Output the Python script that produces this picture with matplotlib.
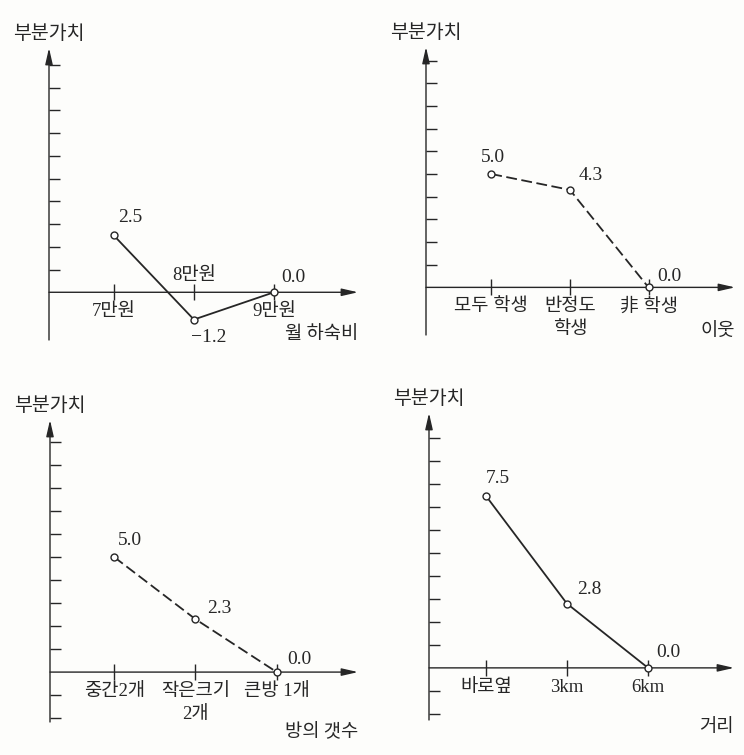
import matplotlib
matplotlib.use("Agg")
import matplotlib.pyplot as plt

# 부분가치 (part-worth) charts, four attributes
rent_levels = ['7만원', '8만원', '9만원']
rent_values = [2.5, -1.2, 0.0]

neighbor_levels = ['모두 학생', '반정도\n학생', '非 학생']
neighbor_values = [5.0, 4.3, 0.0]

room_levels = ['중간2개', '작은크기\n2개', '큰방 1개']
room_values = [5.0, 2.3, 0.0]

dist_levels = ['바로옆', '3km', '6km']
dist_values = [7.5, 2.8, 0.0]

y_title = '부분가치'
x_titles = ['월 하숙비', '이웃', '방의 갯수', '거리']

ink = '#262626'
serif_kr = ['Liberation Serif', 'Noto Sans CJK KR']
sans_kr = ['Noto Sans CJK KR', 'DejaVu Sans']

fig = plt.figure(figsize=(7.44, 7.55), dpi=100, facecolor='#fdfdfb')
W, H = 744, 755

# (left, right, top, bottom) in pixels, xlim, ylim, line style, label above?, value label offsets
panels = [
    dict(box=(49, 358, 48, 340), xlim=(0.19, 4.05), ylim=(-2.1, 10.75),
         levels=rent_levels, values=rent_values, ls='-', above=[False, True, False],
         offs=[(12, 13), (11, -13), (14, 11)], yt=list(range(1, 11)), xt_dy=30),
    dict(box=(426, 735, 47, 335), xlim=(0.17, 4.1), ylim=(-2.1, 10.6),
         levels=neighbor_levels, values=neighbor_values, ls='--', above=[False, False, False],
         offs=[(1, 12), (15, 10), (15, 8)], yt=list(range(1, 11)), xt_dy=32),
    dict(box=(50, 358, 420, 722), xlim=(0.21, 4.0), ylim=(-2.17, 10.96),
         levels=room_levels, values=room_values, ls='--', above=[False, False, False],
         offs=[(11, 12), (17, 8), (16, 9)], yt=[-2, -1] + list(range(1, 11)), xt_dy=43),
    dict(box=(429, 734, 413, 720), xlim=(0.30, 4.06), ylim=(-2.27, 11.1),
         levels=dist_levels, values=dist_values, ls='-', above=[False, False, False],
         offs=[(9, 12), (16, 10), (15, 11)], yt=[-2, -1] + list(range(1, 11)), xt_dy=42),
]

for p, xt in zip(panels, x_titles):
    l, r, t, b = p['box']
    ax = fig.add_axes([l / W, 1 - b / H, (r - l) / W, (b - t) / H])
    ax.set_facecolor('none')
    ax.set_xlim(*p['xlim'])
    ax.set_ylim(*p['ylim'])
    for s in ax.spines.values():
        s.set_visible(False)
    ax.spines['bottom'].set_position(('data', 0))

    xs = list(range(1, len(p['levels']) + 1))
    ax.set_xticks(xs)
    ax.set_yticks(p['yt'])
    ax.tick_params(axis='x', direction='inout', length=11, width=1.0, color=ink, labelbottom=False)
    ax.tick_params(axis='y', direction='in', length=8, width=1.0, color=ink, labelleft=False)

    # axis arrows
    arrow = dict(arrowstyle='-|>,head_length=0.7,head_width=0.16', lw=1.0, color=ink,
                 shrinkA=0, shrinkB=0, mutation_scale=14)
    x0, x1 = p['xlim']
    y0, y1 = p['ylim']
    ax.annotate('', xy=(x0, y1), xytext=(x0, y0), arrowprops=arrow, annotation_clip=False)
    ax.annotate('', xy=(x1, 0), xytext=(x0, 0), arrowprops=arrow, annotation_clip=False)

    ax.plot(xs, p['values'], color=ink, lw=1.3, ls=p['ls'], dashes=(6, 2.5) if p['ls'] == '--' else (None, None),
            marker='o', ms=5, mfc='white', mec=ink, mew=1.0, clip_on=False, zorder=5)

    for x, v, (dx, dy) in zip(xs, p['values'], p['offs']):
        ax.annotate(f'{v:.1f}'.replace('-', '−'), xy=(x, v), xytext=(dx, dy),
                    textcoords='offset points', ha='center', va='center',
                    fontsize=14, color=ink, family=serif_kr)

    for x, lab, up in zip(xs, p['levels'], p['above']):
        ax.annotate(lab, xy=(x, 0), xytext=(0, 6 if up else -8), textcoords='offset points',
                    ha='center', va='bottom' if up else 'top', fontsize=13.5, color=ink,
                    family=serif_kr, linespacing=1.45)

    ax.annotate(y_title, xy=(x0, y1), xytext=(0, 3), textcoords='offset points',
                ha='center', va='bottom', fontsize=14, color=ink, family=sans_kr,
                annotation_clip=False)
    ax.annotate(xt, xy=(x1, 0), xytext=(0, -p['xt_dy']), textcoords='offset points',
                ha='right', va='center', fontsize=13.5, color=ink, family=sans_kr,
                annotation_clip=False)

fig.savefig('out.png', dpi=100, facecolor=fig.get_facecolor())
